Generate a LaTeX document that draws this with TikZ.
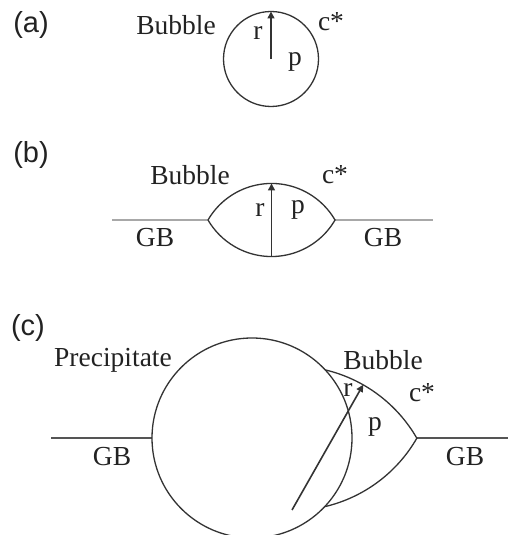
\documentclass[tikz,border=0pt]{standalone}
\usepackage{fontspec}
\setmainfont{Liberation Serif}
\newfontfamily\tagfont{Liberation Sans}
\usepackage{xcolor}
\usepackage{tikz}
\usetikzlibrary{arrows.meta, calc}
\definecolor{tinta}{HTML}{222222}
\definecolor{borde}{HTML}{333333}
\definecolor{gbclaro}{HTML}{A8A8A8}
\definecolor{gboscuro}{HTML}{555555}
\tikzset{
  etiqueta/.style={inner sep=0pt, text=tinta, font=\fontsize{27.5}{30}\selectfont},
  panel/.style={inner sep=0pt, text=tinta, font=\tagfont\fontsize{29}{32}\selectfont},
  contorno/.style={draw=borde, line width=1.3pt},
  radio/.style={-{Triangle[length=7pt, width=7pt]}, draw=borde, line width=1.6pt},
  limite/.style={line width=1.6pt}
}

\begin{document}
\begin{tikzpicture}[x=1pt, y=1pt]
  \useasboundingbox (0,0) rectangle (508,535);

  % --- (a): burbuja aislada ---
  \coordinate (aC) at (271,476);
  \draw[contorno] (aC) circle[radius=47.5];
  \draw[radio] (aC) -- ++(0,47.5);
  \node[panel] (tagA) at (31,510) {(a)};
  \node[etiqueta] (bubA) at (176,510) {Bubble};
  \node[etiqueta] (rA) at (258,502) {r};
  \node[etiqueta] (pA) at (295,473) {p};
  \node[etiqueta] (cA) at (331,513) {c*};

  % --- (b): burbuja en el borde de grano ---
  \coordinate (bL) at (208,315);
  \coordinate (bR) at (335,315);
  \coordinate (bBot) at (271.5,278.5);
  \coordinate (bTop) at (271.5,351.5);
  \coordinate (gbbL) at (112,315);
  \coordinate (gbbR) at (433,315);
  \draw[limite, gbclaro] (gbbL) -- (bL);
  \draw[limite, gbclaro] (bR) -- (gbbR);
  \draw[contorno] (bL) arc[start angle=149.8, end angle=30.2, radius=73.5]
    arc[start angle=-30.2, end angle=-149.8, radius=73.5];
  \draw[radio] (bBot) -- (bTop);
  \node[panel] (tagB) at (31,380) {(b)};
  \node[etiqueta] (bubB) at (190,360) {Bubble};
  \node[etiqueta] (cB) at (335,360) {c*};
  \node[etiqueta] (rB) at (260,325) {r};
  \node[etiqueta] (pB) at (298,325) {p};
  \node[etiqueta] (gbB1) at (155,297) {GB};
  \node[etiqueta] (gbB2) at (383,297) {GB};

  % --- (c): burbuja junto a un precipitado ---
  \coordinate (pC) at (252,97);
  \coordinate (c1) at (292,25);
  \coordinate (c2) at (292,169);
  \coordinate (cL) at (152,97);
  \coordinate (cT) at (416.8,97);
  \coordinate (gbcL) at (51,97);
  \coordinate (gbcR) at (508,97);
  \draw[limite, gboscuro] (gbcL) -- (cL);
  \draw[limite, gboscuro] (cT) -- (gbcR);
  \draw[contorno] (pC) circle[radius=100];
  \draw[contorno] ($(c1)+(76.7:144)$) arc[start angle=76.7, end angle=29.9, radius=144]
    arc[start angle=-29.9, end angle=-76.7, radius=144];
  \draw[radio] (c1) -- ++(60.4:144);
  \node[panel] (tagC) at (28,207) {(c)};
  \node[etiqueta] (preC) at (113,175) {Precipitate};
  \node[etiqueta] (bubC) at (383,175) {Bubble};
  \node[etiqueta] (rC) at (348,145) {r};
  \node[etiqueta] (cC) at (422,142) {c*};
  \node[etiqueta] (pCl) at (375,108) {p};
  \node[etiqueta] (gbC1) at (112,78) {GB};
  \node[etiqueta] (gbC2) at (465,78) {GB};

\end{tikzpicture}
\end{document}
